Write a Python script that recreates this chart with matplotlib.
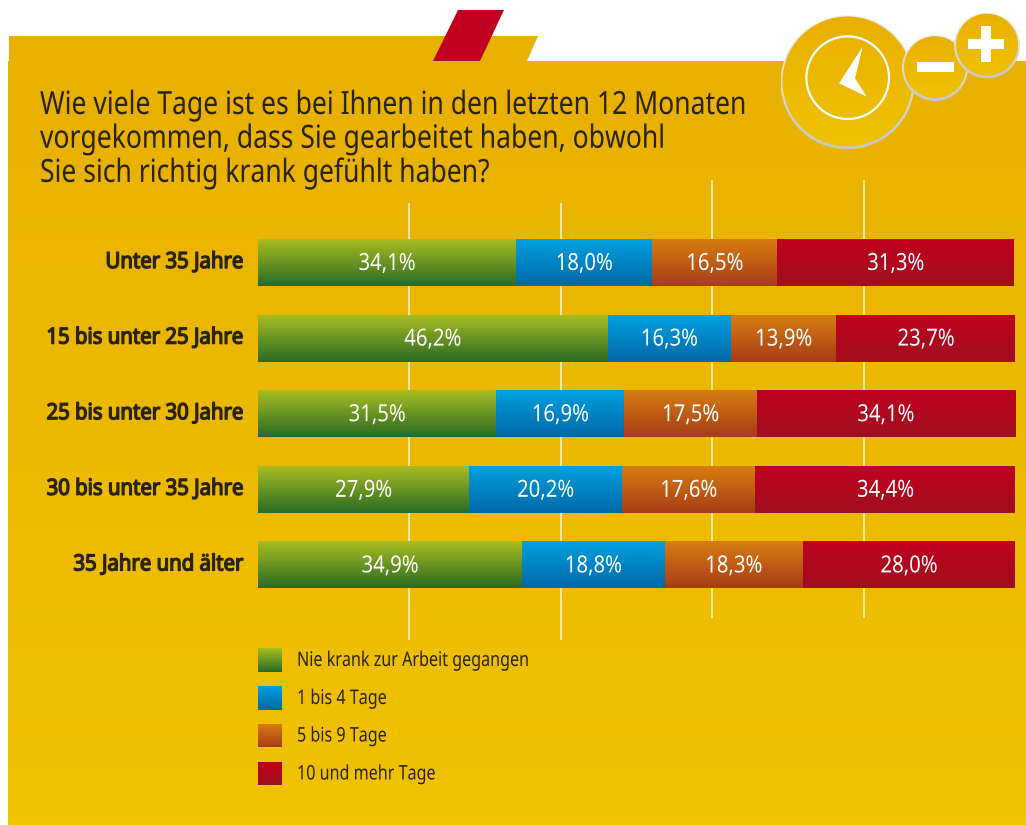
import matplotlib
matplotlib.use("Agg")
import matplotlib.pyplot as plt
import numpy as np
from matplotlib.colors import LinearSegmentedColormap
from matplotlib.patches import Circle, Polygon, Rectangle
from matplotlib.patheffects import AbstractPathEffect
from matplotlib.transforms import Affine2D

plt.rcParams['font.family'] = ['Noto Sans', 'DejaVu Sans']

groups = ["Unter 35 Jahre", "15 bis unter 25 Jahre", "25 bis unter 30 Jahre",
          "30 bis unter 35 Jahre", "35 Jahre und älter"]
series = ["Nie krank zur Arbeit gegangen", "1 bis 4 Tage", "5 bis 9 Tage", "10 und mehr Tage"]
nie_krank = [34.1, 46.2, 31.5, 27.9, 34.9]
tage_1_4 = [18.0, 16.3, 16.9, 20.2, 18.8]
tage_5_9 = [16.5, 13.9, 17.5, 17.6, 18.3]
tage_10 = [31.3, 23.7, 34.1, 34.4, 28.0]
gradients = [("#a8bd20", "#2a6b25"), ("#00a0e0", "#0068a8"),
             ("#d87c10", "#a83c18"), ("#c0001e", "#a0101e")]
title = "Wie viele Tage ist es bei Ihnen in den letzten 12 Monaten\nvorgekommen, dass Sie gearbeitet haben, obwohl\nSie sich richtig krank gefühlt haben?"

W, H = 1026, 825
ink = "#2b2312"
ramp = np.linspace(0, 1, 64).reshape(-1, 1)


class Squeeze(AbstractPathEffect):
    # no condensed font is installed, so narrow the glyphs around x0 (pixels)
    def __init__(self, x0, k, dy=0, bold=0):
        super().__init__()
        self.x0, self.k, self.dy, self.bold = x0, k, dy, bold

    def draw_path(self, renderer, gc, tpath, affine, rgbFace):
        t = affine + Affine2D().translate(-self.x0, 0).scale(self.k, 1).translate(self.x0, -self.dy)
        gc0 = renderer.new_gc()
        gc0.copy_properties(gc)
        if self.bold:
            gc0.set_linewidth(self.bold)
            gc0.set_foreground(rgbFace)
        renderer.draw_path(gc0, tpath, t, rgbFace)
        gc0.restore()


def cmap(top, bottom):
    return LinearSegmentedColormap.from_list("g", [top, bottom])


def grad(ax, box, top, bottom, clip=None, z=1):
    # box is x0, x1, y_bottom, y_top in the units of ax
    im = ax.imshow(ramp, cmap=cmap(top, bottom), extent=box, aspect="auto",
                   origin="upper", vmin=0, vmax=1, zorder=z, interpolation="bilinear")
    if clip is not None:
        im.set_clip_path(clip)
    return im


fig = plt.figure(figsize=(W / 100, H / 100), dpi=100, facecolor="white")

# page furniture, in pixels
bg = fig.add_axes([0, 0, 1, 1])
bg.axis("off")

panel = Polygon([(9, 36), (538, 36), (527, 61), (1026, 61), (1026, 825), (8, 825), (8, 61), (9, 61)],
                closed=True, fc="none", ec="none")
bg.add_patch(panel)
grad(bg, (0, W, 825, 36), "#e8b000", "#f0c200", clip=panel)
bg.add_patch(Polygon([(458, 10), (504, 10), (480, 61), (433, 61)], fc="#c0001e", ec="none", zorder=2))

z = 3
for cx, cy, r in [(847.5, 82.3, 67), (935, 68, 33), (987, 45.5, 33)]:
    rim = Circle((cx, cy), r, fc="none", ec="none", zorder=z)
    bg.add_patch(rim)
    grad(bg, (cx - r, cx + r, cy + r, cy - r), "#f0f0ee", "#c8c8c8", clip=rim, z=z)
    c = Circle((cx, cy - 0.8), r - 2, fc="none", ec="none", zorder=z + 1)
    bg.add_patch(c)
    grad(bg, (cx - r, cx + r, cy + r, cy - r), "#e8b000", "#f0c200", clip=c, z=z + 1)
    z += 2

bg.add_patch(Circle((847.7, 77.7), 41.3, fc="none", ec="white", lw=1.6, zorder=z))
bg.add_patch(Polygon([(862.7, 46.7), (855, 78.3), (866.7, 96.7), (839, 83.3)], fc="white", ec="none", zorder=z))
bg.add_patch(Rectangle((917, 61.7), 36.6, 10.6, fc="white", ec="none", zorder=z))
bg.add_patch(Rectangle((967.7, 39), 36.6, 10, fc="white", ec="none", zorder=z))
bg.add_patch(Rectangle((981, 25.7), 10, 36.6, fc="white", ec="none", zorder=z))

bg.set_xlim(0, W)
bg.set_ylim(H, 0)

bg.text(40, 89, title, fontsize=23, color=ink, va="top", ha="left", linespacing=1.03, zorder=20,
        path_effects=[Squeeze(40, 0.83)])

# the chart itself
ax_top, ax_bottom = 180, 640
ax = fig.add_axes([258 / W, 1 - ax_bottom / H, 757 / W, (ax_bottom - ax_top) / H])
ax.patch.set_alpha(0)
for s in ax.spines.values():
    s.set_visible(False)
ax.set_xlim(0, 100)
ax.set_ylim((640 - 263) / 75.6, (180 - 263) / 75.6)

y = np.arange(len(groups))
ax.vlines([20, 40], (203 - 263) / 75.6, (640 - 263) / 75.6, color="#fff6d8", lw=1.1, zorder=1)
ax.vlines([60, 80], (180 - 263) / 75.6, (618 - 263) / 75.6, color="#fff6d8", lw=1.1, zorder=1)

left = np.zeros(len(groups))
for vals, (top, bottom) in zip([nie_krank, tage_1_4, tage_5_9, tage_10], gradients):
    vals = np.array(vals)
    bars = ax.barh(y, vals, left=left, height=0.61, color="none", zorder=2)
    for b, v in zip(bars, vals):
        x0, y0 = b.get_x(), b.get_y()
        grad(ax, (x0, x0 + b.get_width(), y0 + b.get_height(), y0), top, bottom, z=2)
        mid = x0 + v / 2
        ax.text(mid, y0 + b.get_height() / 2, f"{v:.1f}%".replace(".", ","),
                color="white", fontsize=17, ha="center", va="center", zorder=3,
                path_effects=[Squeeze(ax.transData.transform((mid, 0))[0], 0.86, dy=1)])
    left = left + vals

ax.set_xlim(0, 100)
ax.set_ylim((640 - 263) / 75.6, (180 - 263) / 75.6)
ax.set_xticks([])
ax.set_yticks(y, groups, fontsize=16, color=ink)
ax.tick_params(axis="y", length=0, pad=10.8)
for lbl in ax.get_yticklabels():
    lbl.set_path_effects([Squeeze(243, 0.915, dy=-3, bold=1.0)])

# legend
for name, (top, bottom), (y0, y1) in zip(series, gradients, [(648, 672), (686, 710), (724, 747), (762, 785)]):
    grad(bg, (258, 282, y1, y0), top, bottom, z=20)
    bg.text(297, (y0 + y1) / 2 + 1, name, fontsize=14.5, color=ink, va="center", ha="left", zorder=20,
            path_effects=[Squeeze(297, 0.80)])
bg.set_xlim(0, W)
bg.set_ylim(H, 0)

fig.savefig("out.png", dpi=100)
